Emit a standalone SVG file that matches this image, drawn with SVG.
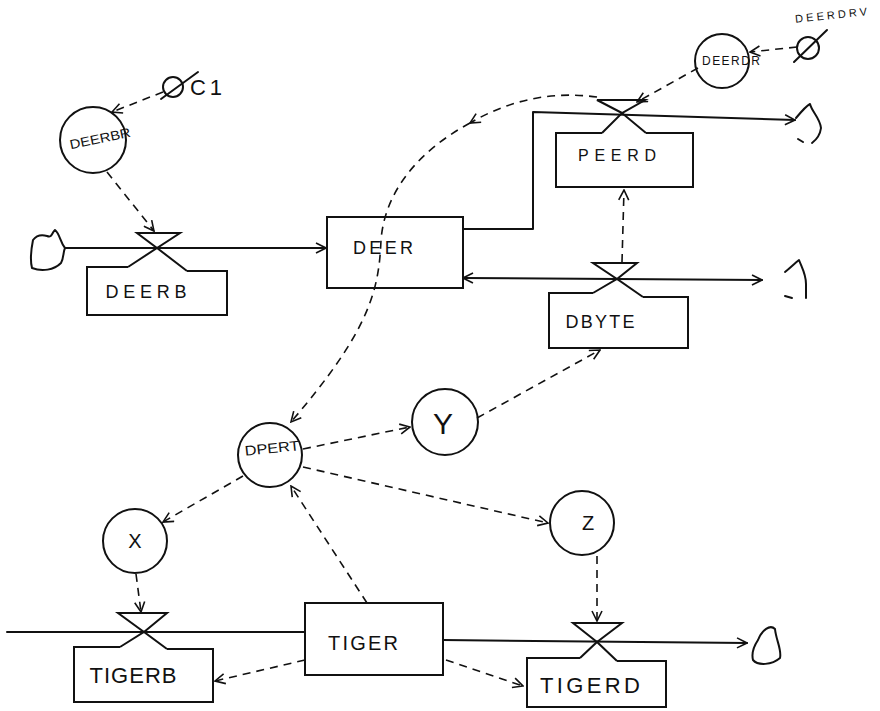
<svg xmlns="http://www.w3.org/2000/svg" width="880" height="711" viewBox="0 0 880 711">
<defs>
<style>
.solid{stroke:#111;stroke-width:2;fill:none;stroke-linecap:round;stroke-linejoin:round}
.dash{stroke:#111;stroke-width:1.6;fill:none;stroke-dasharray:8 6}
.node{stroke:#111;stroke-width:2;fill:none}
.lbl{font-family:"Liberation Sans",Arial,sans-serif;fill:#111;text-anchor:middle}
</style>
<marker id="a" viewBox="0 0 12 12" refX="11" refY="6" markerWidth="12" markerHeight="12" markerUnits="userSpaceOnUse" orient="auto-start-reverse">
<path d="M1,1 L11,6 L1,11" fill="none" stroke="#111" stroke-width="1.6"/>
</marker>
</defs>
<rect width="880" height="711" fill="#fff"/>

<g id="connectors">
<!-- flows -->
<path class="solid" d="M65,248 L326,248" marker-end="url(#a)"/>
<path class="solid" d="M463,229 L533,229 L533,112 L795,120" marker-end="url(#a)"/>
<path class="solid" d="M463,278 L762,280" marker-start="url(#a)" marker-end="url(#a)"/>
<path class="solid" d="M7,632 L305,632"/>
<path class="solid" d="M443,640 L747,643" marker-end="url(#a)"/>
<!-- information links -->
<path class="dash" d="M163,92 L112,112" marker-end="url(#a)"/>
<path class="dash" d="M107,172 L154,231" marker-end="url(#a)"/>
<path class="dash" d="M797,47 L750,52" marker-end="url(#a)"/>
<path class="dash" d="M698,68 L637,102" marker-end="url(#a)"/>
<path class="dash" d="M597,97 Q530,88 470,123" marker-end="url(#a)"/>
<path class="dash" d="M470,123 C420,150 385,190 381,240 C379,290 370,330 291,422" marker-end="url(#a)"/>
<path class="dash" d="M622,262 L624,190" marker-end="url(#a)"/>
<path class="dash" d="M477,418 L600,350" marker-end="url(#a)"/>
<path class="dash" d="M303,449 L410,427" marker-end="url(#a)"/>
<path class="dash" d="M303,467 L548,523" marker-end="url(#a)"/>
<path class="dash" d="M243,476 L163,522" marker-end="url(#a)"/>
<path class="dash" d="M367,603 L291,486" marker-end="url(#a)"/>
<path class="dash" d="M136,574 L141,612" marker-end="url(#a)"/>
<path class="dash" d="M597,556 L597,621" marker-end="url(#a)"/>
<path class="dash" d="M305,660 L215,681" marker-end="url(#a)"/>
<path class="dash" d="M446,660 L523,686" marker-end="url(#a)"/>
</g>

<g id="cloud-deerb-source">
<path class="solid" d="M65,248 C60,242 60,234 55,230 C51,234 52,238 47,236 C40,234 36,236 33,240 C31,250 30,260 32,268 C42,272 54,270 61,263 C64,258 63,252 65,248"/>
</g>
<g id="cloud-peerd-sink">
<path class="solid" d="M796,118 C801,112 806,106 810,104 C812,112 820,118 821,128 C820,136 816,140 812,143"/>
<path class="solid" d="M798,139 L803,142" stroke-width="1.5"/>
</g>
<g id="cloud-dbyte-sink">
<path class="solid" d="M785,272 C790,268 795,263 799,260 C802,268 806,274 806,284 L806,298"/>
<path class="solid" d="M785,296 L792,298" stroke-width="1.5"/>
</g>
<g id="cloud-tigerd-sink">
<path class="solid" d="M758,640 C762,630 770,624 775,629 C776,640 782,650 780,658 C772,665 758,666 753,660 C751,652 754,646 758,640 Z"/>
</g>

<g id="C1">
<circle class="node" cx="173" cy="87" r="10"/>
<path class="solid" d="M161,99 L198,72"/>
<text class="lbl" x="206" y="95" font-size="22" textLength="32" lengthAdjust="spacing">C1</text>
</g>

<g id="DEERBR">
<circle class="node" cx="93" cy="140" r="33"/>
<text class="lbl" x="100" y="143" font-size="13" textLength="62" lengthAdjust="spacingAndGlyphs" transform="rotate(-12 100 138)">DEERBR</text>
</g>

<g id="DEERB">
<path class="node" d="M128,267 L87,267 L87,315 L227,315 L227,271 L187,271"/>
<path class="node" d="M137,233 L180,233 L157,248 Z"/>
<path class="node" d="M128,267 L157,248 L187,271"/>
<text class="lbl" x="146" y="298" font-size="18" textLength="81" lengthAdjust="spacing">DEERB</text>
</g>

<g id="DEER">
<rect class="node" x="327" y="217" width="136" height="71"/>
<text class="lbl" x="383" y="254" font-size="18" textLength="60" lengthAdjust="spacing">DEER</text>
</g>

<g id="PEERD">
<path class="node" d="M602,133 L556,133 L556,187 L693,187 L693,133 L646,133"/>
<path class="node" d="M597,100 L645,100 L622,113 Z"/>
<path class="node" d="M602,133 L622,113 L646,133"/>
<text class="lbl" x="617" y="161" font-size="16" textLength="78" lengthAdjust="spacing">PEERD</text>
</g>

<g id="DEERDR">
<circle class="node" cx="722" cy="61" r="27"/>
<text class="lbl" x="731" y="65" font-size="12" textLength="58" lengthAdjust="spacing">DEERDR</text>
</g>

<g id="DEERDRV">
<circle class="node" cx="808" cy="48" r="11"/>
<path class="solid" d="M794,62 L827,30"/>
<text class="lbl" x="831" y="19" font-size="11" textLength="72" lengthAdjust="spacing" transform="rotate(-6 831 15)">DEERDRV</text>
</g>

<g id="DBYTE">
<path class="node" d="M593,293 L549,293 L549,348 L688,348 L688,297 L643,297"/>
<path class="node" d="M593,263 L637,263 L617,279 Z"/>
<path class="node" d="M593,293 L617,279 L643,297"/>
<text class="lbl" x="600" y="328" font-size="18" textLength="69" lengthAdjust="spacing">DBYTE</text>
</g>

<g id="DPERT">
<circle class="node" cx="270" cy="455" r="32"/>
<text class="lbl" x="272" y="453" font-size="14" textLength="55" lengthAdjust="spacingAndGlyphs" transform="rotate(-6 272 448)">DPERT</text>
</g>

<g id="Y">
<circle class="node" cx="445" cy="422" r="33"/>
<text class="lbl" x="443" y="434" font-size="30">Y</text>
</g>

<g id="X">
<circle class="node" cx="135" cy="541" r="32"/>
<text class="lbl" x="135" y="548" font-size="20">X</text>
</g>

<g id="Z">
<circle class="node" cx="582" cy="523" r="32"/>
<text class="lbl" x="588" y="530" font-size="20">Z</text>
</g>

<g id="TIGER">
<rect class="node" x="305" y="603" width="138" height="72"/>
<text class="lbl" x="363" y="650" font-size="20" textLength="70" lengthAdjust="spacing">TIGER</text>
</g>

<g id="TIGERB">
<path class="node" d="M120,647 L74,647 L74,702 L213,702 L213,649 L167,649"/>
<path class="node" d="M118,613 L167,613 L144,632 Z"/>
<path class="node" d="M120,647 L144,632 L167,649"/>
<text class="lbl" x="133" y="683" font-size="22" textLength="87" lengthAdjust="spacing">TIGERB</text>
</g>

<g id="TIGERD">
<path class="node" d="M580,658 L527,658 L527,707 L666,707 L666,661 L617,661"/>
<path class="node" d="M573,623 L622,623 L597,642 Z"/>
<path class="node" d="M580,658 L597,642 L617,661"/>
<text class="lbl" x="590" y="693" font-size="22" textLength="100" lengthAdjust="spacing">TIGERD</text>
</g>
</svg>
